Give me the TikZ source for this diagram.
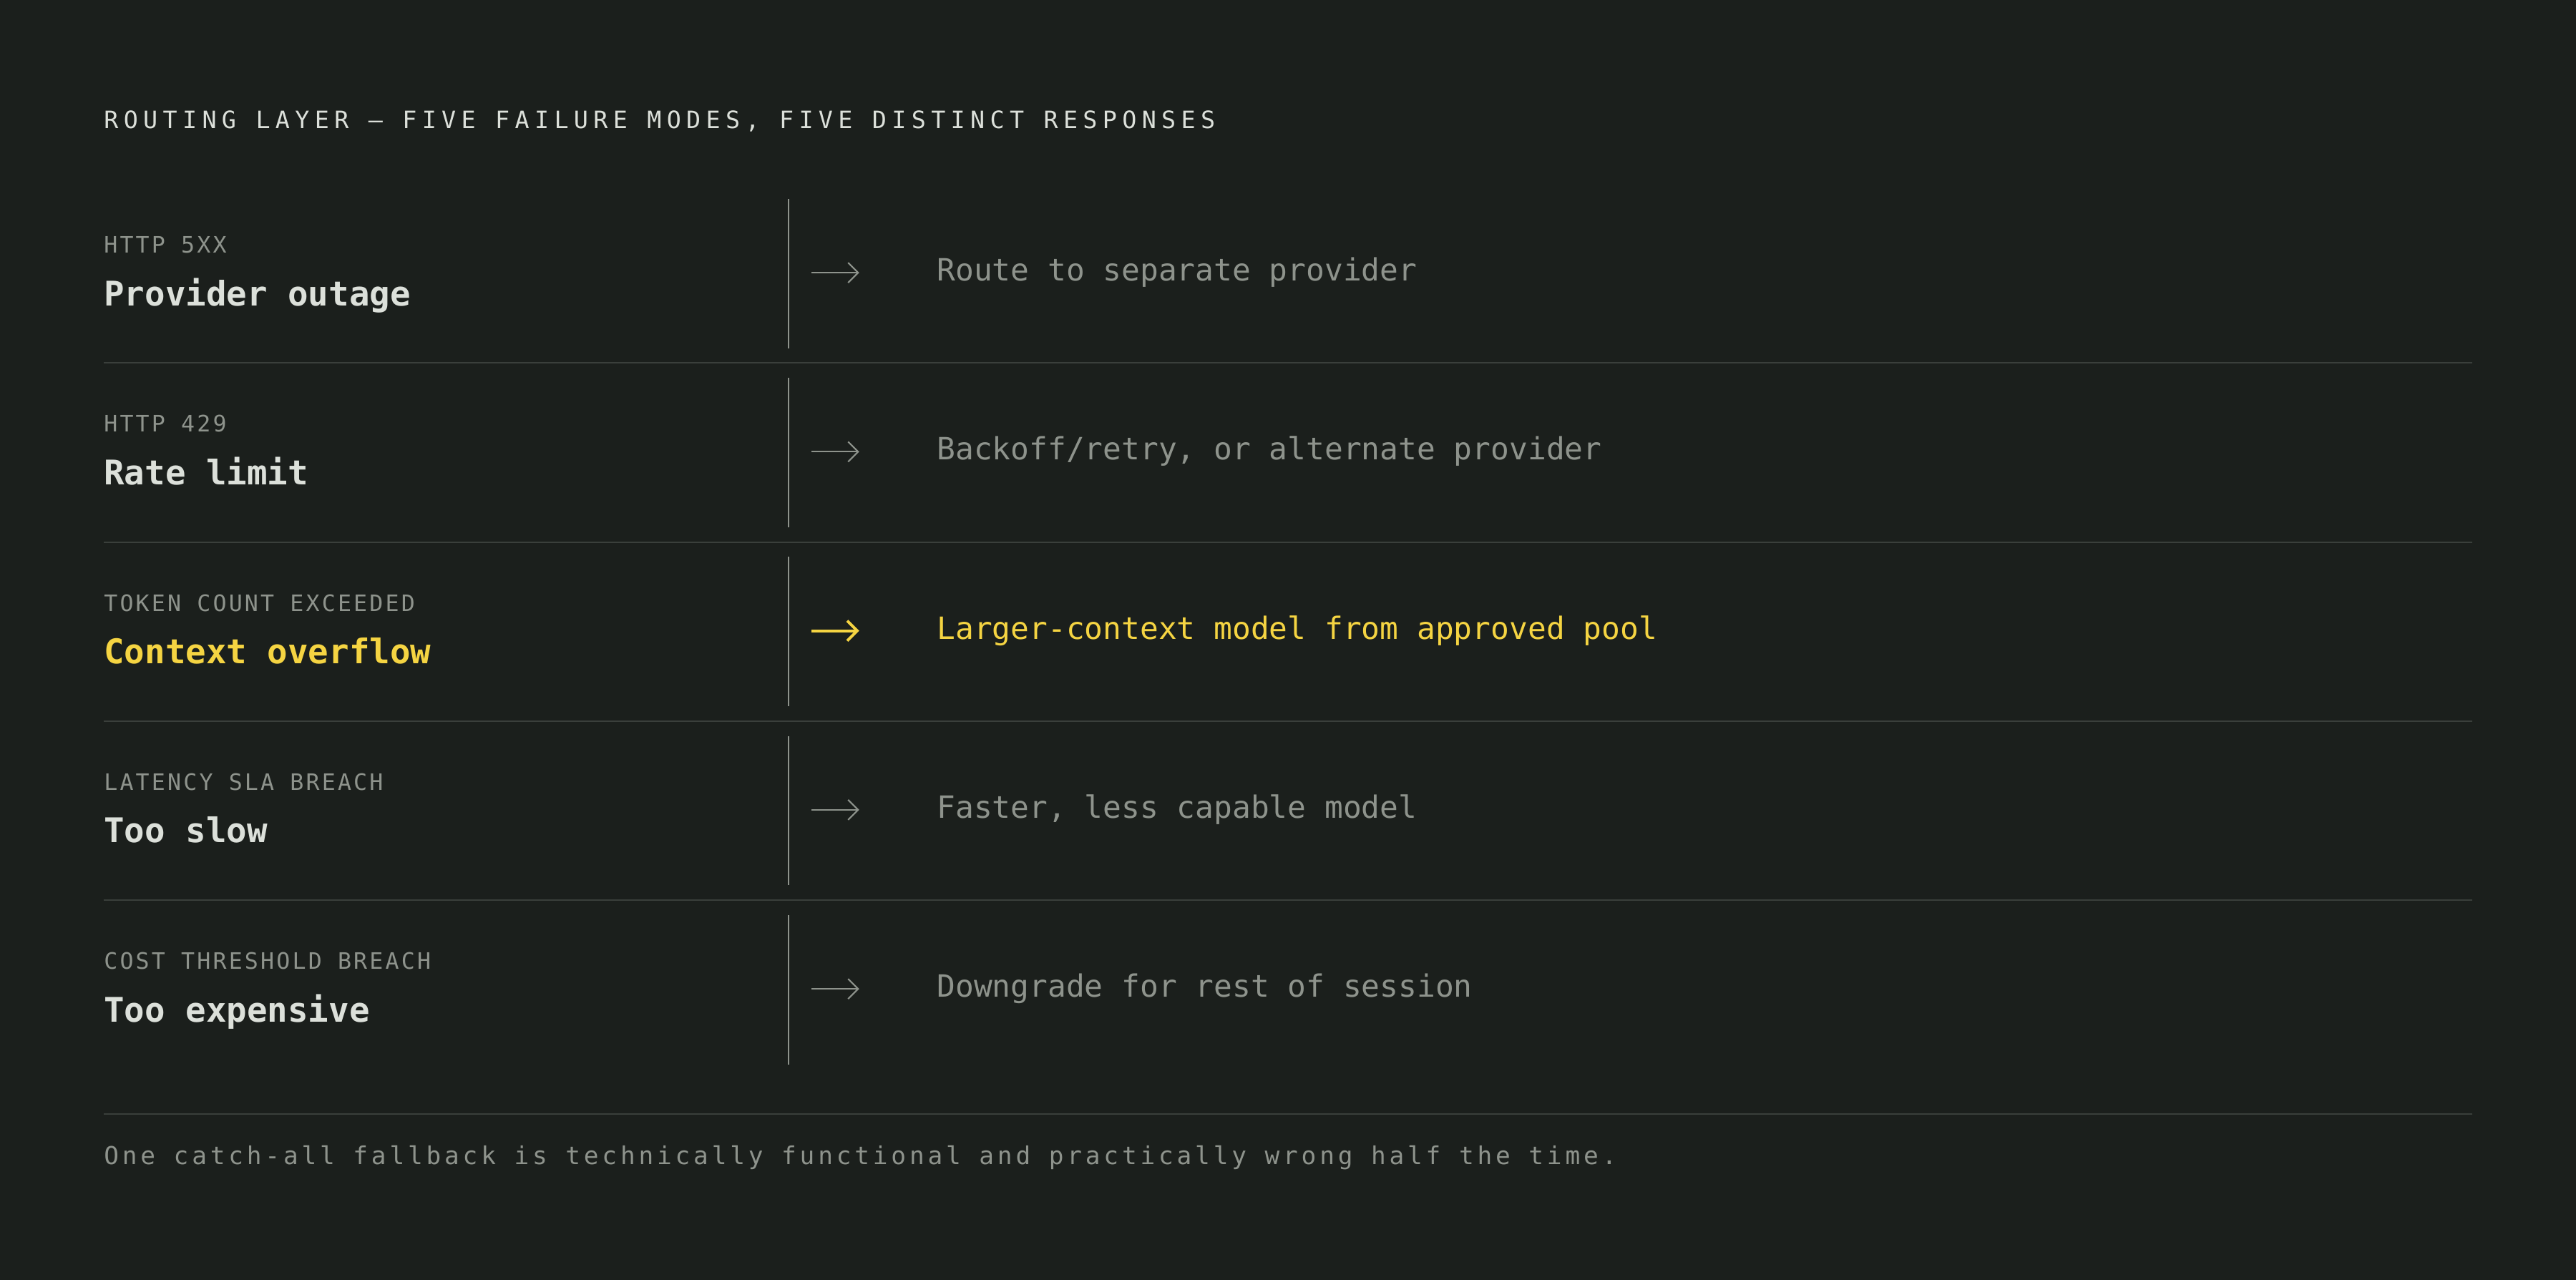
\documentclass[tikz,border=0pt]{standalone}
\usepackage{fontspec}
\setmonofont{DejaVu Sans Mono}
\newfontfamily\trackfont[LetterSpace=22]{DejaVu Sans Mono}
\newfontfamily\smallfont[LetterSpace=10]{DejaVu Sans Mono}
\newfontfamily\footfont[LetterSpace=14]{DejaVu Sans Mono}
\usetikzlibrary{arrows.meta}
\definecolor{bgdark}{HTML}{1B1F1C}
\definecolor{txtlight}{HTML}{DCE0DA}
\definecolor{txtgray}{HTML}{8E938C}
\definecolor{ruleg}{HTML}{3A3F3B}
\definecolor{hiyel}{HTML}{F5D442}
\tikzset{
  kind/.style={anchor=base west,inner sep=0pt,color=txtgray,font=\smallfont\fontsize{9}{10}\selectfont},
  mode/.style={anchor=base west,inner sep=0pt,color=txtlight,font=\ttfamily\bfseries\fontsize{13.5}{15}\selectfont},
  resp/.style={anchor=base west,inner sep=0pt,color=txtgray,font=\ttfamily\fontsize{12.2}{14}\selectfont},
  goarrow/.style={-{Straight Barb[length=4pt,width=8pt]},line width=0.6pt,color=txtgray}
}
\begin{document}
\begin{tikzpicture}[x=0.02296cm,y=-0.02296cm]
  \fill[bgdark] (0,0) rectangle (1568,779);
  \useasboundingbox (0,0) rectangle (1568,779);
  \node[anchor=base west,inner sep=0pt,color=txtlight,font=\trackfont\fontsize{9.5}{11}\selectfont] (title) at (63,78)
    {ROUTING LAYER — FIVE FAILURE MODES, FIVE DISTINCT RESPONSES};
  % rows
  \foreach \i/\k/\m/\r/\c in {0/HTTP 5XX/Provider outage/Route to separate provider/txtgray,
      1/HTTP 429/Rate limit/{Backoff/retry, or alternate provider}/txtgray,
      2/TOKEN COUNT EXCEEDED/Context overflow/Larger-context model from approved pool/hiyel,
      3/LATENCY SLA BREACH/Too slow/{Faster, less capable model}/txtgray,
      4/COST THRESHOLD BREACH/Too expensive/Downgrade for rest of session/txtgray}{
    \pgfmathsetmacro{\yy}{109*\i}
    \node[kind] (kind\i) at (63,154+\yy) {\k};
    \ifnum\i=2
      \node[mode,color=hiyel] (mode\i) at (63,186+\yy) {\m};
    \else
      \node[mode] (mode\i) at (63,186+\yy) {\m};
    \fi
    \node[resp,color=\c] (resp\i) at (570,171+\yy) {\r};
    \coordinate (top\i) at (480,121+\yy);
    \coordinate (bot\i) at (480,212+\yy);
    \draw[color=txtgray,line width=0.8pt] (top\i) -- (bot\i);
    \coordinate (from\i) at (494,166+\yy);
    \coordinate (to\i) at (523,166+\yy);
    \ifnum\i=2
      \draw[goarrow,color=hiyel,line width=1.1pt] (from\i) -- (to\i);
    \else
      \draw[goarrow] (from\i) -- (to\i);
    \fi
    \ifnum\i<4
      \draw[color=ruleg,line width=0.6pt] (63,221+\yy) -- (1505,221+\yy);
    \fi
  }
  \draw[color=ruleg,line width=0.6pt] (63,678) -- (1505,678);
  \node[anchor=base west,inner sep=0pt,color=txtgray,font=\footfont\fontsize{9.8}{11}\selectfont] (foot) at (63,709)
    {One catch-all fallback is technically functional and practically wrong half the time.};
\end{tikzpicture}
\end{document}
